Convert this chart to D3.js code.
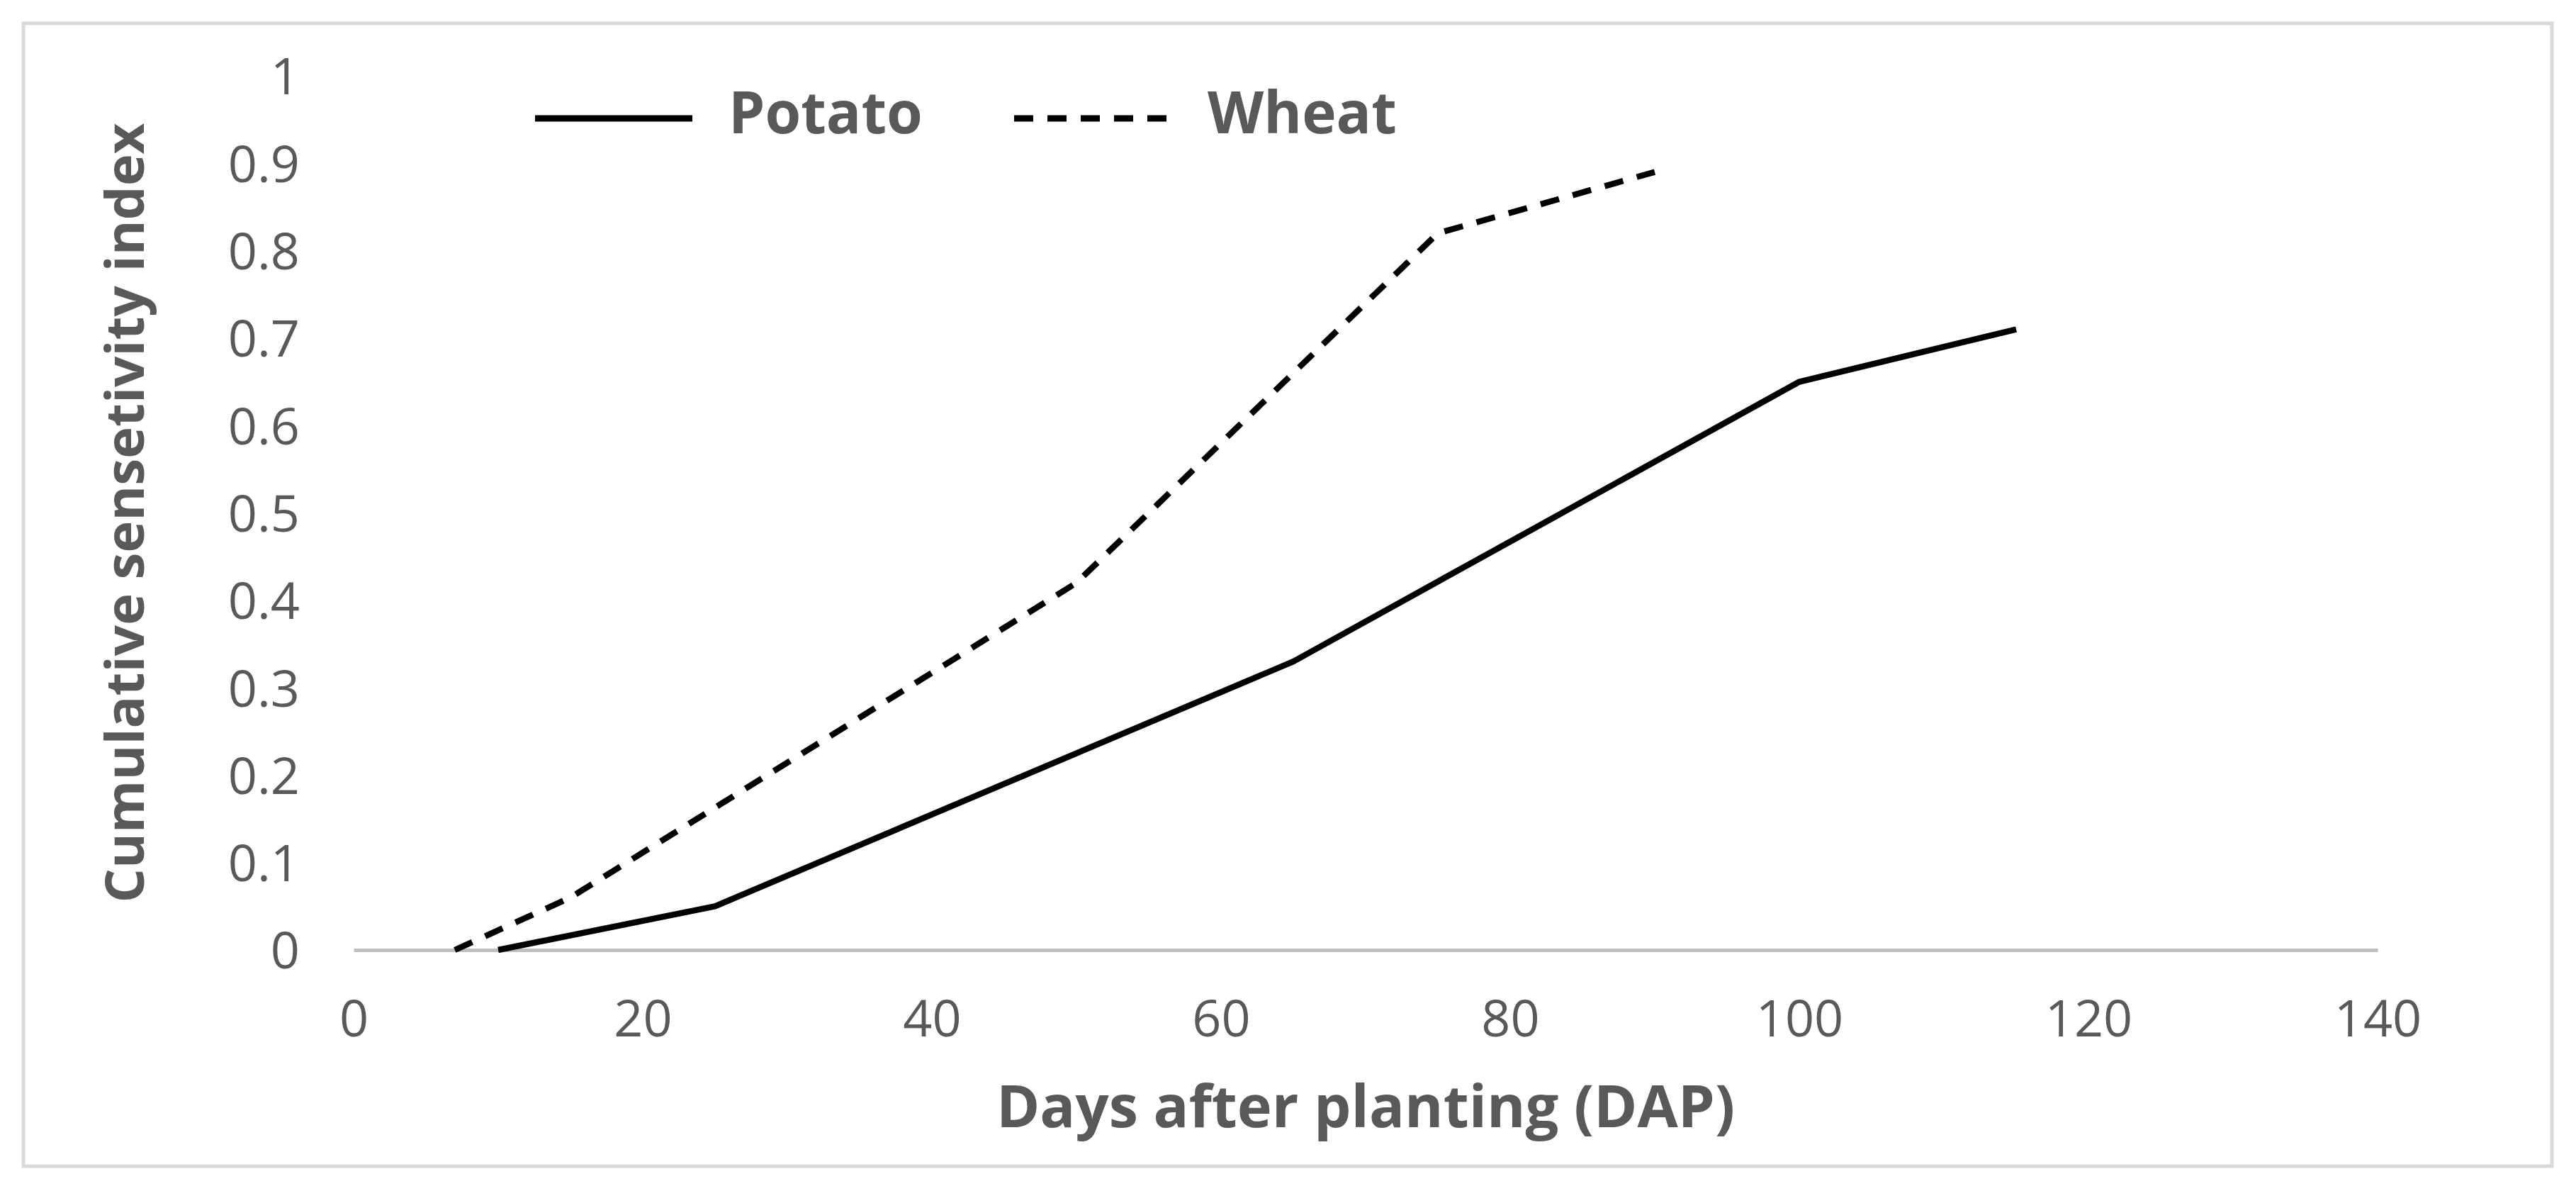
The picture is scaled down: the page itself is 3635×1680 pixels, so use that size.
<!DOCTYPE html>
<html>
<head>
<meta charset="utf-8">
<title>Cumulative sensitivity index</title>
<script src="https://cdnjs.cloudflare.com/ajax/libs/d3/7.8.5/d3.min.js"></script>
<style>
  body { margin: 0; background: #fff; }
  text { font-family: "Open Sans", sans-serif; fill: #595959; }
</style>
</head>
<body>
<script>
// values
var seriesNames = ["Potato", "Wheat"];
var potatoDays = [10, 25, 65, 100, 115];
var potatoIndex = [0, 0.05, 0.33, 0.65, 0.71];
var wheatDays = [7, 15, 50, 75, 90];
var wheatIndex = [0, 0.06, 0.42, 0.82, 0.89];
var xTicks = [0, 20, 40, 60, 80, 100, 120, 140];
var yTicks = [0, 0.1, 0.2, 0.3, 0.4, 0.5, 0.6, 0.7, 0.8, 0.9, 1];

var width = 3635, height = 1680;
var plot = {left: 499, right: 3355, top: 107, bottom: 1340};

var svg = d3.select("body").append("svg")
    .attr("width", width)
    .attr("height", height);

svg.append("rect")
    .attr("width", width).attr("height", height)
    .attr("fill", "#fff");

// outer frame
svg.append("rect")
    .attr("x", 33).attr("y", 33)
    .attr("width", 3601 - 33).attr("height", 1645 - 33)
    .attr("fill", "none")
    .attr("stroke", "#d9d9d9")
    .attr("stroke-width", 5);

var x = d3.scaleLinear().domain([0, 140]).range([plot.left, plot.right]);
var y = d3.scaleLinear().domain([0, 1]).range([plot.bottom, plot.top]);

// x axis
var xAxis = svg.append("g")
    .attr("transform", "translate(0," + plot.bottom + ")")
    .call(d3.axisBottom(x).tickValues(xTicks).tickSize(0).tickSizeOuter(0).tickPadding(71));
xAxis.select(".domain").attr("stroke", "#bfbfbf").attr("stroke-width", 5);
xAxis.selectAll("text")
    .attr("fill", "#595959")
    .style("font-family", "'Open Sans', sans-serif")
    .style("font-size", "72px");

// y axis (labels only)
var yAxis = svg.append("g")
    .attr("transform", "translate(" + plot.left + ",0)")
    .call(d3.axisLeft(y).tickValues(yTicks).tickSize(0).tickPadding(76)
      .tickFormat(function(d) { return d3.format("")(+d.toFixed(1)); }));
yAxis.select(".domain").remove();
yAxis.selectAll("text")
    .attr("fill", "#595959")
    .attr("dy", "0.36em")
    .style("font-family", "'Open Sans', sans-serif")
    .style("font-size", "72px");

// axis titles
svg.append("text")
    .attr("x", (plot.left + plot.right) / 2)
    .attr("y", 1590)
    .attr("text-anchor", "middle")
    .style("font-size", "83px")
    .style("font-weight", "bold")
    .text("Days after planting (DAP)");

svg.append("text")
    .attr("transform", "translate(203," + (plot.top + plot.bottom) / 2 + ") rotate(-90)")
    .attr("text-anchor", "middle")
    .style("font-size", "76px")
    .style("font-weight", "bold")
    .text("Cumulative sensetivity index");

// lines
var line = d3.line()
    .x(function(d) { return x(d.day); })
    .y(function(d) { return y(d.value); });

function toPoints(days, vals) {
  var pts = [];
  for (var i = 0; i < days.length; i++) {
    pts.push({day: days[i], value: vals[i]});
  }
  return pts;
}

var series = [
  {name: seriesNames[0], points: toPoints(potatoDays, potatoIndex), dash: null},
  {name: seriesNames[1], points: toPoints(wheatDays, wheatIndex), dash: "27,20"}
];

svg.selectAll(".series")
    .data(series)
  .enter().append("path")
    .attr("class", "series")
    .attr("d", function(d) { return line(d.points); })
    .attr("fill", "none")
    .attr("stroke", "#000")
    .attr("stroke-width", 8.5)
    .attr("stroke-linejoin", "round")
    .attr("stroke-dasharray", function(d) { return d.dash; });

// legend
var legendX = [755, 1431];
var legend = svg.selectAll(".legend")
    .data(series)
  .enter().append("g")
    .attr("class", "legend")
    .attr("transform", function(d, i) { return "translate(" + legendX[i] + ",167)"; });

legend.append("line")
    .attr("x1", 0).attr("x2", 222)
    .attr("stroke", "#000")
    .attr("stroke-width", 9)
    .attr("stroke-dasharray", function(d) { return d.dash; });

legend.append("text")
    .attr("x", 273)
    .attr("y", 21)
    .style("font-size", "82px")
    .style("font-weight", "bold")
    .text(function(d) { return d.name; });
</script>
</body>
</html>
